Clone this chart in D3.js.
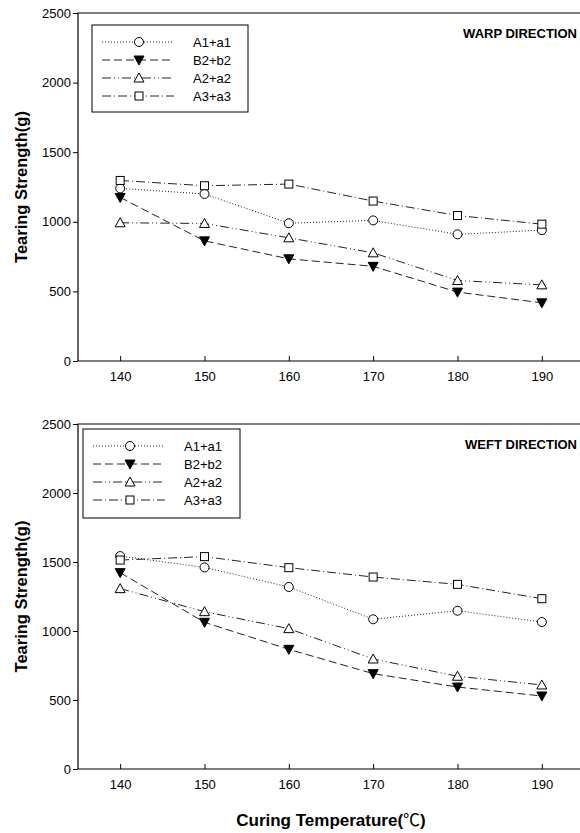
<!DOCTYPE html>
<html>
<head>
<meta charset="utf-8">
<script src="https://d3js.org/d3.v7.min.js"></script>
<style>
  body { margin: 0; background: #fff; }
  svg { display: block; font-family: "Liberation Sans", Arial, sans-serif; }
</style>
</head>
<body>
<div id="chart"></div>
<script>
// datos
var temps = [140, 150, 160, 170, 180, 190];
var seriesNames = ["A1+a1", "B2+b2", "A2+a2", "A3+a3"];
var yTicks = [0, 500, 1000, 1500, 2000, 2500];

var warpA1 = [1240, 1200, 990, 1010, 910, 940];
var warpB2 = [1175, 863, 734, 680, 495, 418];
var warpA2 = [993, 988, 885, 777, 578, 547];
var warpA3 = [1297, 1259, 1271, 1149, 1045, 983];

var weftA1 = [1543, 1461, 1319, 1085, 1147, 1065];
var weftB2 = [1423, 1063, 867, 691, 594, 529];
var weftA2 = [1307, 1140, 1017, 797, 672, 609];
var weftA3 = [1514, 1539, 1459, 1391, 1338, 1234];

var width = 580, height = 833;

var svg = d3.select("#chart").append("svg")
  .attr("width", width)
  .attr("height", height);

// estilos de cada serie
var estilos = [
  { dash: "1,2", marker: "circle" },
  { dash: "8,4", marker: "down" },
  { dash: "9,3,1,3,1,3", marker: "up" },
  { dash: "9,3,1,3", marker: "square" }
];

function drawMarker(g, tipo, x, y) {
  if (tipo == "circle") {
    g.append("circle").attr("cx", x).attr("cy", y).attr("r", 4.5)
      .attr("fill", "#fff").attr("stroke", "#000").attr("stroke-width", 1);
  } else if (tipo == "square") {
    g.append("rect").attr("x", x - 4).attr("y", y - 4).attr("width", 8).attr("height", 8)
      .attr("fill", "#fff").attr("stroke", "#000").attr("stroke-width", 1);
  } else if (tipo == "up") {
    g.append("path").attr("d", "M" + x + "," + (y - 5) + "L" + (x + 5) + "," + (y + 4) + "L" + (x - 5) + "," + (y + 4) + "Z")
      .attr("fill", "#fff").attr("stroke", "#000").attr("stroke-width", 1);
  } else {
    g.append("path").attr("d", "M" + x + "," + (y + 5) + "L" + (x + 5) + "," + (y - 4) + "L" + (x - 5) + "," + (y - 4) + "Z")
      .attr("fill", "#000").attr("stroke", "#000").attr("stroke-width", 1);
  }
}

function drawPanel(cfg) {
  var x = d3.scaleLinear().domain([135, 195]).range([78, 584]);
  var y = d3.scaleLinear().domain([0, 2500]).range([cfg.bottom, cfg.top]);
  var g = svg.append("g");

  // marco (el borde derecho queda fuera de la imagen)
  var marco = "M" + width + "," + y(2500) + "H" + x(135) + "V" + y(0) + "H" + width;
  g.append("path")
    .attr("d", marco)
    .attr("fill", "none").attr("stroke", "#000").attr("stroke-width", 1.2);

  // eje y (ticks hacia fuera)
  var ay = g.append("g").attr("transform", "translate(" + x(135) + ",0)")
    .call(d3.axisLeft(y).tickValues(yTicks).tickSize(5).tickPadding(2).tickFormat(d3.format("d")));
  ay.select(".domain").remove();
  ay.selectAll("text").attr("font-size", 13).attr("fill", "#000")
    .attr("font-family", "Liberation Sans, Arial, sans-serif");

  // eje x (ticks hacia dentro)
  var ax = g.append("g").attr("transform", "translate(0," + y(0) + ")")
    .call(d3.axisBottom(x).tickValues(temps).tickSize(-5).tickPadding(11).tickFormat(d3.format("d")));
  ax.select(".domain").remove();
  ax.selectAll("text").attr("font-size", 13).attr("fill", "#000")
    .attr("font-family", "Liberation Sans, Arial, sans-serif");

  // titulo del panel
  g.append("text")
    .attr("x", 577).attr("y", y(2500) + 25)
    .attr("text-anchor", "end")
    .attr("font-size", 13).attr("font-weight", "bold")
    .text(cfg.titulo);

  // etiqueta del eje y
  g.append("text")
    .attr("transform", "translate(27," + (y(1250)) + ") rotate(-90)")
    .attr("text-anchor", "middle")
    .attr("font-size", 16.5).attr("font-weight", "bold")
    .text("Tearing Strength(g)");

  // lineas
  var linea = d3.line()
    .x(function(d, i) { return x(temps[i]); })
    .y(function(d) { return y(d); });

  cfg.datos.forEach(function(serie, k) {
    g.append("path")
      .attr("d", linea(serie))
      .attr("fill", "none")
      .attr("stroke", "#222")
      .attr("stroke-width", 1)
      .attr("stroke-dasharray", estilos[k].dash);
  });
  cfg.datos.forEach(function(serie, k) {
    serie.forEach(function(v, i) {
      drawMarker(g, estilos[k].marker, x(temps[i]), y(v));
    });
  });

  // leyenda
  var L = cfg.leyenda;
  g.append("rect")
    .attr("x", L.x).attr("y", L.y).attr("width", L.w).attr("height", L.h)
    .attr("fill", "#fff").attr("stroke", "#000").attr("stroke-width", 1);
  seriesNames.forEach(function(nombre, k) {
    var yy = L.y + 17 + k * 18;
    g.append("line")
      .attr("x1", L.x + 10).attr("x2", L.x + 82)
      .attr("y1", yy).attr("y2", yy)
      .attr("stroke", "#222").attr("stroke-width", 1)
      .attr("stroke-dasharray", estilos[k].dash);
    drawMarker(g, estilos[k].marker, L.x + 47, yy);
    g.append("text")
      .attr("x", L.x + 101).attr("y", yy + 5)
      .attr("font-size", 13)
      .text(nombre);
  });
}

drawPanel({
  top: 13, bottom: 361, titulo: "WARP DIRECTION",
  datos: [warpA1, warpB2, warpA2, warpA3],
  leyenda: { x: 92, y: 25, w: 156, h: 87 }
});

drawPanel({
  top: 424, bottom: 769, titulo: "WEFT DIRECTION",
  datos: [weftA1, weftB2, weftA2, weftA3],
  leyenda: { x: 83, y: 429, w: 157, h: 89 }
});

// etiqueta del eje x
var xl = svg.append("text")
  .attr("x", 331).attr("y", 826)
  .attr("text-anchor", "middle")
  .attr("font-size", 17).attr("font-weight", "bold");
xl.append("tspan").text("Curing Temperature(");
xl.append("tspan").attr("font-family", "Noto Sans CJK KR").attr("font-weight", "normal").text("℃");
xl.append("tspan").text(")");
</script>
</body>
</html>
